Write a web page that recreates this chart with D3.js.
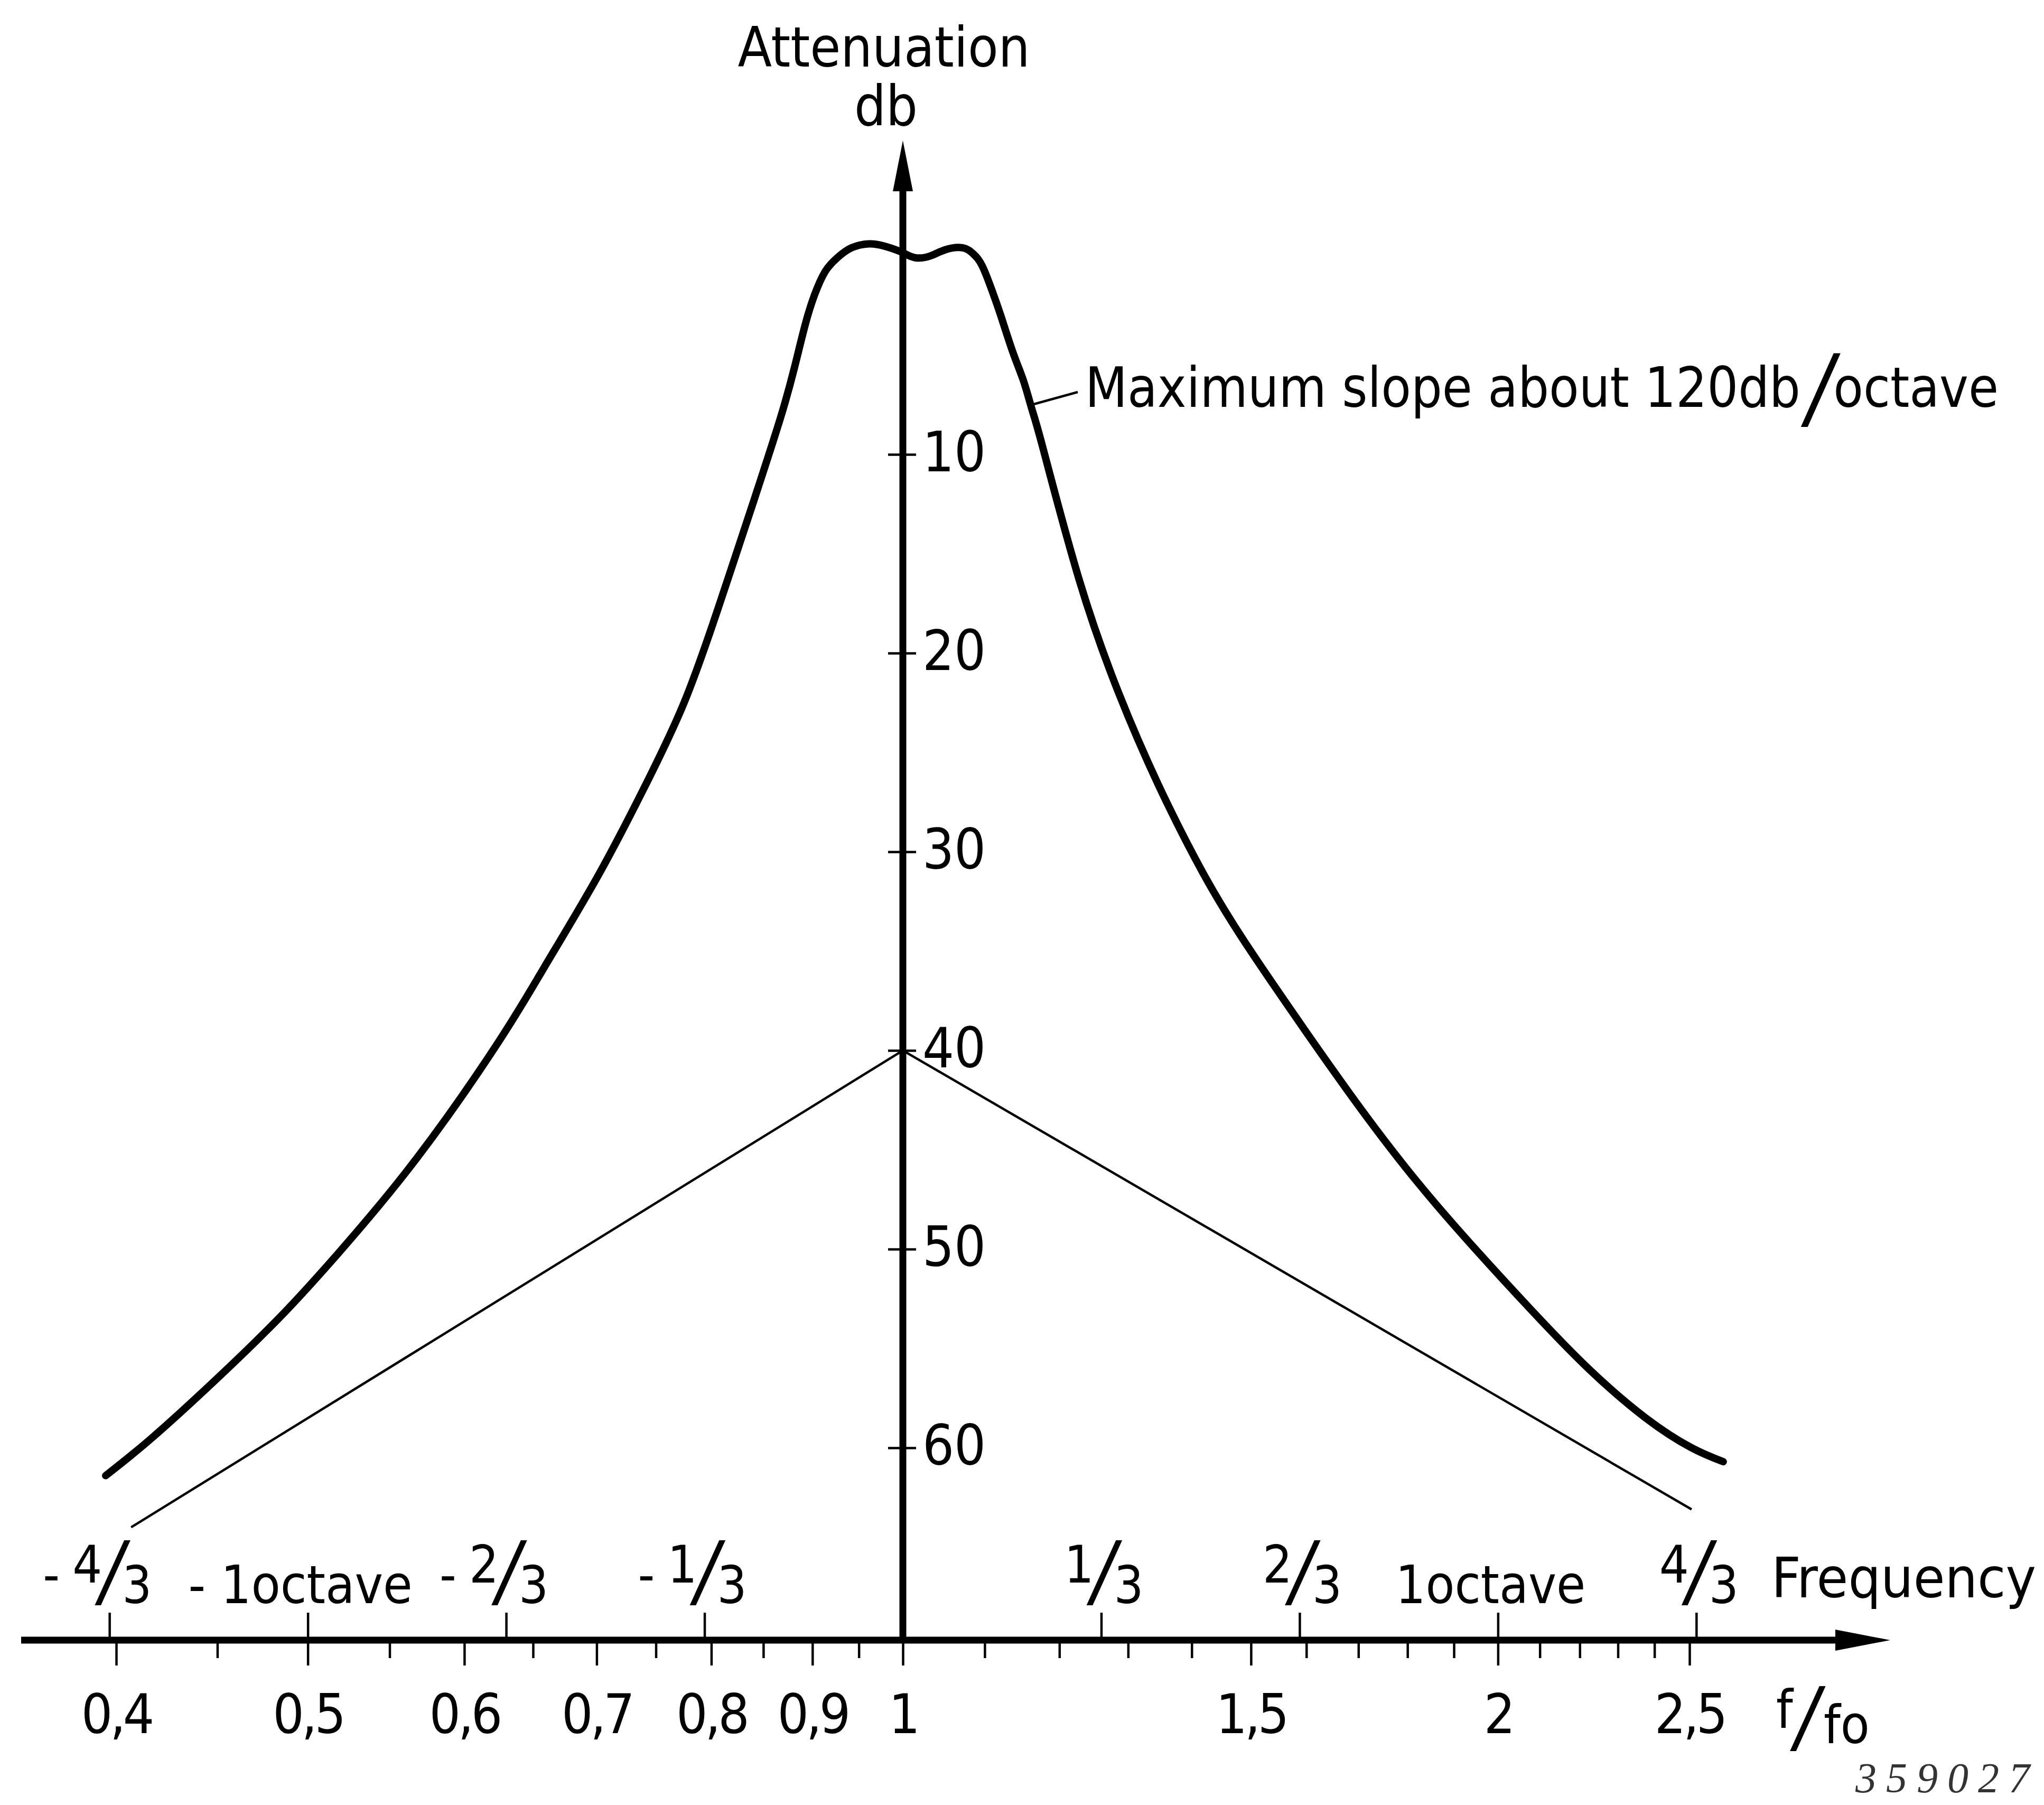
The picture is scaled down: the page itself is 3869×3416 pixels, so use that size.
<!DOCTYPE html>
<html>
<head>
<meta charset="utf-8">
<script src="https://cdn.jsdelivr.net/npm/d3@7"></script>
<style>
  body { margin: 0; background: #fff; }
  svg text { font-family: "DejaVu Sans Condensed", "DejaVu Sans", sans-serif; font-stretch: condensed; fill: #000; }
</style>
</head>
<body>
<div id="chart"></div>
<script>
// Attenuation curve of the filter (f/fo, db)
const curveFreq = [0.3951, 0.4170, 0.4489, 0.4832, 0.5171, 0.5679, 0.6241, 0.6587, 0.7003, 0.7388,
    0.7750, 0.8073, 0.8408, 0.8669, 0.8810, 0.8923, 0.9020, 0.9134, 0.9265, 0.9420,
    0.9614, 0.9775, 0.9975, 1.0143, 1.0332, 1.0505, 1.0720, 1.0853, 1.0967, 1.1099,
    1.1207, 1.1371, 1.1509, 1.1620, 1.1774, 1.2279, 1.2857, 1.3462, 1.4191, 1.4951,
    1.5978, 1.7066, 1.8235, 1.9481, 2.0808, 2.2216, 2.3757, 2.5061, 2.6002];
const curveAtten = [61.4, 59.5, 56.6, 53.5, 50.3, 45.4, 39.6, 35.8, 31.3, 26.9,
    22.5, 17.6, 12.3, 8.2, 5.7, 3.5, 2.0, 0.8, 0.1, -0.4,
    -0.6, -0.5, -0.2, 0.1, 0.0, -0.3, -0.4, -0.1, 0.5, 1.8,
    3.0, 4.9, 6.3, 7.7, 9.7, 16.3, 22.0, 26.6, 31.1, 34.8,
    39.0, 43.0, 46.7, 50.0, 53.1, 56.0, 58.5, 60.0, 60.7];

// Thin reference line (single circuit slope)
const refFreq = [0.407, 1, 2.506];
const refAtten = [64.0, 40.0, 63.1];

// Axis ticks and labels
const dbTicks = [10, 20, 30, 40, 50, 60];
const freqMajor = [0.4, 0.5, 0.6, 0.7, 0.8, 0.9, 1, 1.5, 2, 2.5];
const freqMajorLabels = ["0,4", "0,5", "0,6", "0,7", "0,8", "0,9", "1", "1,5", "2", "2,5"];
const freqMinor = [0.45, 0.55, 0.65, 0.75, 0.85, 0.95, 1.1, 1.2, 1.3, 1.4, 1.6, 1.7, 1.8, 1.9, 2.1, 2.2, 2.3, 2.4];
const octaveThirds = [-4, -3, -2, -1, 1, 2, 3, 4];
const octaveLabels = ["-4/3", "- 1octave", "-2/3", "-1/3", "1/3", "2/3", "1octave", "4/3"];

const width = 3869, height = 3416;
const axisY = 3104;

const xScale = d3.scaleLog().domain([0.4, 2.5]).range([220, 3198]);
const yScale = d3.scaleLinear().domain([0, 60]).range([484, 2740]);
const x1 = xScale(1);

const svg = d3.select("#chart").append("svg")
    .attr("width", width)
    .attr("height", height);

svg.append("rect").attr("width", width).attr("height", height).attr("fill", "#fff");

// Ticks below the frequency axis (unlabelled)
svg.append("g")
    .attr("transform", `translate(0,${axisY})`)
    .call(d3.axisBottom(xScale).tickValues(freqMinor).tickSize(34).tickFormat(""))
    .call(g => g.select(".domain").remove())
    .call(g => g.selectAll("line").attr("stroke", "#000").attr("stroke-width", 4.5));

// Labelled ticks below the frequency axis
svg.append("g")
    .attr("transform", `translate(0,${axisY})`)
    .call(d3.axisBottom(xScale).tickValues(freqMajor).tickSize(48).tickFormat((d, i) => freqMajorLabels[i]))
    .attr("font-size", 104)
    .call(g => g.select(".domain").remove())
    .call(g => g.selectAll("line").attr("stroke", "#000").attr("stroke-width", 4.5))
    .call(g => g.selectAll("text").attr("y", 176).attr("dy", null).attr("letter-spacing", -5));

// Octave ticks above the axis
const octaveValues = octaveThirds.map(k => Math.pow(2, k / 3));
svg.append("g")
    .attr("transform", `translate(0,${axisY})`)
    .call(d3.axisTop(xScale).tickValues(octaveValues).tickSize(52).tickFormat(""))
    .call(g => g.select(".domain").remove())
    .call(g => g.selectAll("line").attr("stroke", "#000").attr("stroke-width", 4.5));

// Octave labels: stacked fractions and "octave" words
const octG = svg.append("g");
octaveLabels.forEach((lab, i) => {
    const cx = xScale(octaveValues[i]);
    if (lab.includes("/")) {
        const neg = lab.startsWith("-");
        const parts = lab.replace("-", "").split("/");
        const t = octG.append("text").attr("font-size", 98);
        if (neg) {
            t.append("tspan").attr("x", cx - 126).attr("y", 3014).text("-");
        }
        t.append("tspan").attr("x", cx - 70).attr("y", 2995).text(parts[0]);
        t.append("tspan").attr("x", cx - 18).attr("y", 3024)
            .attr("font-size", 150).attr("font-style", "italic").text("/");
        t.append("tspan").attr("x", cx + 24).attr("y", 3034).text(parts[1]);
    } else {
        const w = lab.startsWith("-") ? 424 : 360;
        octG.append("text").attr("x", cx - 14).attr("y", 3034)
            .attr("text-anchor", "middle").attr("font-size", 100)
            .attr("textLength", w).attr("lengthAdjust", "spacingAndGlyphs")
            .text(lab);
    }
});

svg.append("text").attr("x", 3353).attr("y", 3023).attr("font-size", 105)
    .attr("textLength", 501).attr("lengthAdjust", "spacingAndGlyphs").text("Frequency");

// f/fo axis label
const ff = svg.append("text").attr("font-size", 100);
ff.append("tspan").attr("x", 3362).attr("y", 3270).text("f");
ff.append("tspan").attr("x", 3398).attr("y", 3300).attr("font-size", 150).attr("font-style", "italic").text("/");
ff.append("tspan").attr("x", 3452).attr("y", 3299).text("fo");

// Attenuation axis ticks (crossing the axis) with labels to the right
svg.append("g")
    .attr("transform", `translate(${x1},0)`)
    .call(d3.axisLeft(yScale).tickValues(dbTicks).tickSize(28).tickFormat(""))
    .call(g => g.select(".domain").remove())
    .call(g => g.selectAll("line").attr("stroke", "#000").attr("stroke-width", 4.5));

svg.append("g")
    .attr("transform", `translate(${x1},0)`)
    .call(d3.axisRight(yScale).tickValues(dbTicks).tickSize(25).tickPadding(12))
    .attr("font-size", 105)
    .call(g => g.select(".domain").remove())
    .call(g => g.selectAll("line").attr("stroke", "#000").attr("stroke-width", 4.5))
    .call(g => g.selectAll("text").attr("dy", "0.3em"));

svg.append("text").attr("x", 1673).attr("y", 126).attr("text-anchor", "middle").attr("font-size", 105)
    .attr("textLength", 553).attr("lengthAdjust", "spacingAndGlyphs").text("Attenuation");
svg.append("text").attr("x", 1677).attr("y", 237).attr("text-anchor", "middle").attr("font-size", 105).text("db");

// Main axes with arrow heads
svg.append("line")
    .attr("x1", 40).attr("y1", axisY).attr("x2", 3490).attr("y2", axisY)
    .attr("stroke", "#000").attr("stroke-width", 13);
svg.append("path")
    .attr("d", `M3474,${axisY - 20}L3578,${axisY}L3474,${axisY + 20}Z`)
    .attr("fill", "#000");

svg.append("line")
    .attr("x1", x1).attr("y1", axisY + 4).attr("x2", x1).attr("y2", 350)
    .attr("stroke", "#000").attr("stroke-width", 13);
svg.append("path")
    .attr("d", `M${x1 - 19},362L${x1},266L${x1 + 19},362Z`)
    .attr("fill", "#000");

// Reference slope line
const refData = refFreq.map((f, i) => ({ f, a: refAtten[i] }));
svg.append("path")
    .datum(refData)
    .attr("fill", "none")
    .attr("stroke", "#000")
    .attr("stroke-width", 4.5)
    .attr("d", d3.line().x(d => xScale(d.f)).y(d => yScale(d.a)));

// Filter curve
const curveData = curveFreq.map((f, i) => ({ f, a: curveAtten[i] }));
svg.append("path")
    .datum(curveData)
    .attr("fill", "none")
    .attr("stroke", "#000")
    .attr("stroke-width", 14)
    .attr("stroke-linecap", "round")
    .attr("stroke-linejoin", "round")
    .attr("d", d3.line().x(d => xScale(d.f)).y(d => yScale(d.a)).curve(d3.curveNatural));

// Annotation with leader line
const leadX = xScale(1.162), leadY = yScale(7.5);
svg.append("path")
    .attr("d", `M${leadX},${leadY}L${2040},${742}`)
    .attr("fill", "none").attr("stroke", "#000").attr("stroke-width", 4.5);
const note = svg.append("text").attr("x", 2054).attr("y", 770).attr("font-size", 105)
    .attr("textLength", 1729).attr("lengthAdjust", "spacingAndGlyphs");
note.append("tspan").text("Maximum slope  about  120db");
note.append("tspan").attr("font-size", 170).attr("font-style", "italic").attr("dy", 22).attr("dx", 12).text("/");
note.append("tspan").attr("dy", -22).text("octave");

// Drawing number
svg.append("text").attr("x", 3512).attr("y", 3392).attr("font-size", 80)
    .attr("font-style", "italic")
    .attr("textLength", 330).attr("lengthAdjust", "spacing")
    .style("fill", "#333")
    .style("font-family", "'Liberation Serif', serif")
    .text("359027");
</script>
</body>
</html>
